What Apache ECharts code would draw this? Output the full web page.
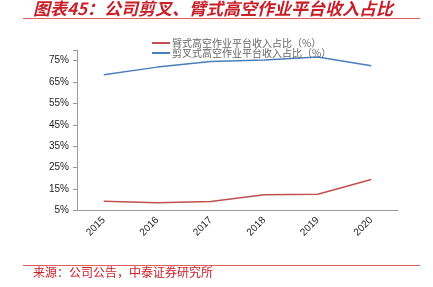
<!DOCTYPE html>
<html><head><meta charset="utf-8">
<script src="https://cdn.jsdelivr.net/npm/echarts@6/dist/echarts.min.js"></script>
<style>html,body{margin:0;padding:0;background:#fff}#c{width:433px;height:287px}</style>
</head><body><div id="c"></div>
<script>
const categories = ['2015','2016','2017','2018','2019','2020'];
const boomShare = [9.3, 8.6, 9.2, 12.4, 12.6, 19.5];
const scissorShare = [68.4, 72.0, 74.6, 75.3, 76.7, 72.6];
const seriesNames = ['臂式高空作业平台收入占比（%）', '剪叉式高空作业平台收入占比（%）'];
const titleText = '图表45：公司剪叉、臂式高空作业平台收入占比';
const sourceText = '来源：公司公告，中泰证券研究所';

const chart = echarts.init(document.getElementById('c'));
chart.setOption({
  animation: false,
  grid: {left: 77, right: 35, top: 50, bottom: 76.5},
  legend: {
    orient: 'vertical', left: 147, top: 33, itemGap: 0,
    itemWidth: 18, itemHeight: 2, icon: 'rect',
    textStyle: {fontSize: 10, color: '#666', fontFamily: 'Noto Sans CJK SC', lineHeight: 9, padding: [0,0,0,-3]},
    data: seriesNames
  },
  xAxis: {
    type: 'category', data: categories,
    axisLine: {lineStyle: {color: '#999'}},
    axisTick: {lineStyle: {color: '#999'}, length: 4},
    axisLabel: {rotate: 45, fontSize: 10, color: '#222', fontFamily: 'Liberation Sans', margin: 8}
  },
  yAxis: {
    type: 'value', min: 5, max: 80, interval: 10,
    splitLine: {show: false},
    axisLine: {show: true, lineStyle: {color: '#999'}},
    axisTick: {show: true, lineStyle: {color: '#999'}, length: 4},
    axisLabel: {fontSize: 10, color: '#222', fontFamily: 'Liberation Sans', formatter: v => v === 80 ? '' : v + '%', margin: 8}
  },
  series: [
    {name: seriesNames[0], type: 'line', data: boomShare, symbol: 'none', lineStyle: {width: 1.5, color: '#c0504d'}, itemStyle: {color: '#c0504d'}},
    {name: seriesNames[1], type: 'line', data: scissorShare, symbol: 'none', lineStyle: {width: 1.5, color: '#4a7ebb'}, itemStyle: {color: '#4a7ebb'}}
  ],
  graphic: [
    {type: 'text', left: 33, top: 0, style: {text: titleText, fontSize: 17, fontWeight: 'bold', fontStyle: 'italic', fill: '#c8202a', fontFamily: 'Noto Sans CJK SC'}},
    {type: 'line', shape: {x1: 23, y1: 18.5, x2: 420, y2: 18.5}, style: {stroke: '#e06060', lineWidth: 1}},
    {type: 'line', shape: {x1: 23, y1: 265.5, x2: 420, y2: 265.5}, style: {stroke: '#e06060', lineWidth: 1}},
    {type: 'text', left: 33, top: 266, style: {text: sourceText, fontSize: 12, fill: '#c8202a', fontFamily: 'Noto Sans CJK SC'}}
  ]
});
</script></body></html>
